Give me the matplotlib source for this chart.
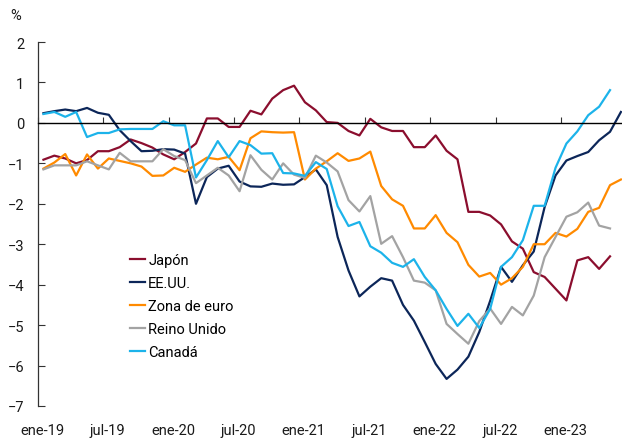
import numpy as np
import matplotlib.pyplot as plt

plt.rcParams['font.family'] = ['Roboto', 'DejaVu Sans']

# meses desde ene-2019 (índice 0)
etiquetas = ['ene-19', 'jul-19', 'ene-20', 'jul-20', 'ene-21',
             'jul-21', 'ene-22', 'jul-22', 'ene-23']

japon = [-0.91, -0.81, -0.88, -1.0, -0.92, -0.70, -0.70, -0.60, -0.41, -0.50,
         -0.61, -0.78, -0.90, -0.72, -0.51, 0.11, 0.11, -0.10, -0.10, 0.30,
         0.21, 0.60, 0.81, 0.92, 0.51, 0.31, 0.02, 0.0, -0.20, -0.31,
         0.10, -0.11, -0.20, -0.20, -0.60, -0.60, -0.31, -0.69, -0.90, -2.20,
         -2.20, -2.29, -2.51, -2.93, -3.11, -3.69, -3.81, -4.10, -4.39, -3.40,
         -3.32, -3.61, -3.30]
eeuu = [0.24, 0.29, 0.33, 0.29, 0.37, 0.25, 0.20, -0.18, -0.45, -0.70,
        -0.69, -0.65, -0.66, -0.76, -2.0, -1.34, -1.13, -1.06, -1.45, -1.57,
        -1.58, -1.50, -1.53, -1.52, -1.34, -1.15, -1.54, -2.82, -3.65, -4.29,
        -4.05, -3.84, -3.90, -4.50, -4.89, -5.42, -5.96, -6.33, -6.10, -5.78,
        -5.17, -4.40, -3.56, -3.93, -3.52, -3.18, -2.08, -1.30, -0.93, -0.82,
        -0.72, -0.43, -0.22, 0.27]
zona_euro = [-1.13, -0.98, -0.77, -1.30, -0.78, -1.13, -0.88, -0.94, -1.0, -1.08,
             -1.31, -1.30, -1.11, -1.21, -1.03, -0.86, -0.90, -0.84, -1.17, -0.38,
             -0.21, -0.23, -0.24, -0.23, -1.40, -1.13, -0.95, -0.75, -0.94, -0.88,
             -0.71, -1.56, -1.89, -2.05, -2.61, -2.61, -2.28, -2.72, -2.95, -3.51,
             -3.80, -3.71, -4.0, -3.84, -3.56, -3.0, -3.0, -2.72, -2.81, -2.62,
             -2.20, -2.10, -1.54, -1.40]
reino_unido = [-1.15, -1.05, -1.05, -1.05, -0.95, -1.05, -1.15, -0.74, -0.95, -0.95,
               -0.95, -0.65, -0.82, -0.92, -1.49, -1.30, -1.11, -1.30, -1.69, -0.80,
               -1.16, -1.40, -1.0, -1.28, -1.36, -0.81, -0.98, -1.20, -1.91, -2.19,
               -1.81, -2.99, -2.80, -3.32, -3.90, -3.95, -4.14, -4.97, -5.22, -5.46,
               -4.90, -4.59, -4.97, -4.55, -4.76, -4.27, -3.32, -2.82, -2.32, -2.21,
               -1.97, -2.54, -2.61]
canada = [0.22, 0.27, 0.15, 0.27, -0.35, -0.25, -0.25, -0.16, -0.15, -0.15,
          -0.15, 0.04, -0.06, -0.06, -1.35, -0.92, -0.45, -0.85, -0.45, -0.55,
          -0.76, -0.75, -1.24, -1.25, -1.31, -0.97, -1.14, -2.06, -2.55, -2.45,
          -3.05, -3.21, -3.46, -3.56, -3.37, -3.81, -4.14, -4.60, -5.02, -4.72,
          -5.07, -4.60, -3.56, -3.32, -2.90, -2.05, -2.05, -1.11, -0.51, -0.21,
          0.19, 0.40, 0.81]

series = [
    ('Japón', japon, '#8b0e2e'),
    ('EE.UU.', eeuu, '#0c2659'),
    ('Zona de euro', zona_euro, '#ff8a00'),
    ('Reino Unido', reino_unido, '#a3a3a3'),
    ('Canadá', canada, '#1cb3ea'),
]

fig = plt.figure(figsize=(6.22, 4.39), dpi=100)
ax = fig.add_axes([38 / 622, 32 / 439, 584 / 622, 364 / 439])

for nombre, valores, color in series:
    ax.plot(np.arange(len(valores)), valores, color=color, lw=1.6, label=nombre)

ax.set_xlim(-0.5, 53.1)
ax.set_ylim(-7, 2)
ax.set_yticks(range(-7, 3))

for lado in ['top', 'right']:
    ax.spines[lado].set_visible(False)
ax.spines['left'].set_color('#333333')
ax.spines['left'].set_linewidth(0.9)
# eje x sobre el cero
ax.spines['bottom'].set_position(('data', 0))
ax.spines['bottom'].set_color('black')
ax.spines['bottom'].set_linewidth(1.0)

pos = np.arange(len(etiquetas)) * 6 - 0.5
ax.set_xticks(pos)
ax.tick_params(axis='x', direction='in', length=4, color='#333333', labelbottom=False)
ax.tick_params(axis='y', direction='in', length=5, pad=10, labelsize=10.5,
               color='#333333', labelcolor='#1a1a1a')

sec = ax.secondary_xaxis('bottom')
sec.set_xticks(pos + 0.4, etiquetas)
sec.tick_params(length=0, pad=12, labelsize=10.5, labelcolor='#1a1a1a')
sec.spines['bottom'].set_visible(False)

fig.text(16 / 622, 1 - 16 / 439, '%', ha='center', va='center', fontsize=10.5,
         color='#1a1a1a')

ax.legend(loc='upper left', bbox_to_anchor=(130 / 622, 1 - 254 / 439),
          bbox_transform=fig.transFigure, frameon=False, fontsize=10.5,
          handlelength=1.05, handletextpad=0.2, labelspacing=0.62,
          borderpad=0, borderaxespad=0)

fig.savefig('out.png', dpi=100)
